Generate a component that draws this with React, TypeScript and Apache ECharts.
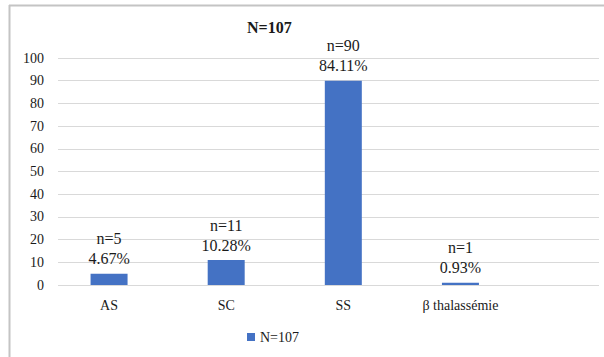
import React, { useEffect, useRef } from "react";
import * as echarts from "echarts";

// Répartition des génotypes
const categories = ["AS", "SC", "SS", "β thalassémie"];
const counts = [5, 11, 90, 1];
const total = 107;
const seriesName = "N=107";
const yTicks = { min: 0, max: 100, interval: 10 };

const FONT = "Times New Roman, Liberation Serif, serif";
const TEXT = "#1a1a1a";
const BAR = "#4472C4";
const GRID = "#d9d9d9";

export default function App() {
  const ref = useRef<HTMLDivElement>(null);

  useEffect(() => {
    if (!ref.current) return;
    const chart = echarts.init(ref.current, null, { renderer: "svg" });
    chart.setOption({
      animation: false,
      backgroundColor: "#ffffff",
      textStyle: { fontFamily: FONT },
      title: {
        text: "N=107",
        left: 247,
        top: 19,
        padding: 0,
        textStyle: { fontFamily: FONT, fontSize: 16, fontWeight: "bold", color: TEXT },
      },
      legend: {
        data: [seriesName],
        left: 247,
        top: 330,
        padding: 0,
        icon: "rect",
        itemWidth: 8,
        itemHeight: 8,
        textStyle: { fontFamily: FONT, fontSize: 14, color: TEXT },
      },
      grid: [
        { left: 58, right: 5, top: 58, bottom: 72 },
        { left: 50.5, width: 468.5, top: 58, bottom: 72 },
      ],
      xAxis: [
        { type: "value", gridIndex: 0, show: false },
        {
          type: "category",
          gridIndex: 1,
          data: categories,
          axisLine: { show: false },
          axisTick: { show: false },
          axisLabel: { fontFamily: FONT, fontSize: 14, color: TEXT, margin: 13 },
        },
      ],
      yAxis: [
        {
          type: "value",
          gridIndex: 0,
          min: yTicks.min,
          max: yTicks.max,
          interval: yTicks.interval,
          axisLine: { show: false },
          axisTick: { show: false },
          axisLabel: { fontFamily: FONT, fontSize: 14, color: TEXT, margin: 14 },
          splitLine: { lineStyle: { color: GRID, width: 1 } },
        },
        {
          type: "value",
          gridIndex: 1,
          min: yTicks.min,
          max: yTicks.max,
          interval: yTicks.interval,
          show: false,
        },
      ],
      series: [
        {
          name: seriesName,
          type: "bar",
          xAxisIndex: 1,
          yAxisIndex: 1,
          data: counts,
          barWidth: 37,
          itemStyle: { color: BAR },
          label: {
            show: true,
            position: "top",
            distance: 5,
            fontFamily: FONT,
            fontSize: 16,
            lineHeight: 20,
            color: TEXT,
            formatter: (p: any) =>
              `n=${p.value}\n${((p.value / total) * 100).toFixed(2)}%`,
          },
        },
      ],
      graphic: [
        {
          type: "line",
          shape: { x1: 9.5, y1: 5, x2: 9.5, y2: 357 },
          style: { stroke: "#c4c4c4", lineWidth: 2 },
        },
        {
          type: "line",
          shape: { x1: 9, y1: 5.5, x2: 604, y2: 5.5 },
          style: { stroke: "#c4c4c4", lineWidth: 2 },
        },
      ],
    });
    return () => chart.dispose();
  }, []);

  return (
    <div
      ref={ref}
      style={{ position: "fixed", left: 0, top: 0, width: 604, height: 357 }}
    />
  );
}
